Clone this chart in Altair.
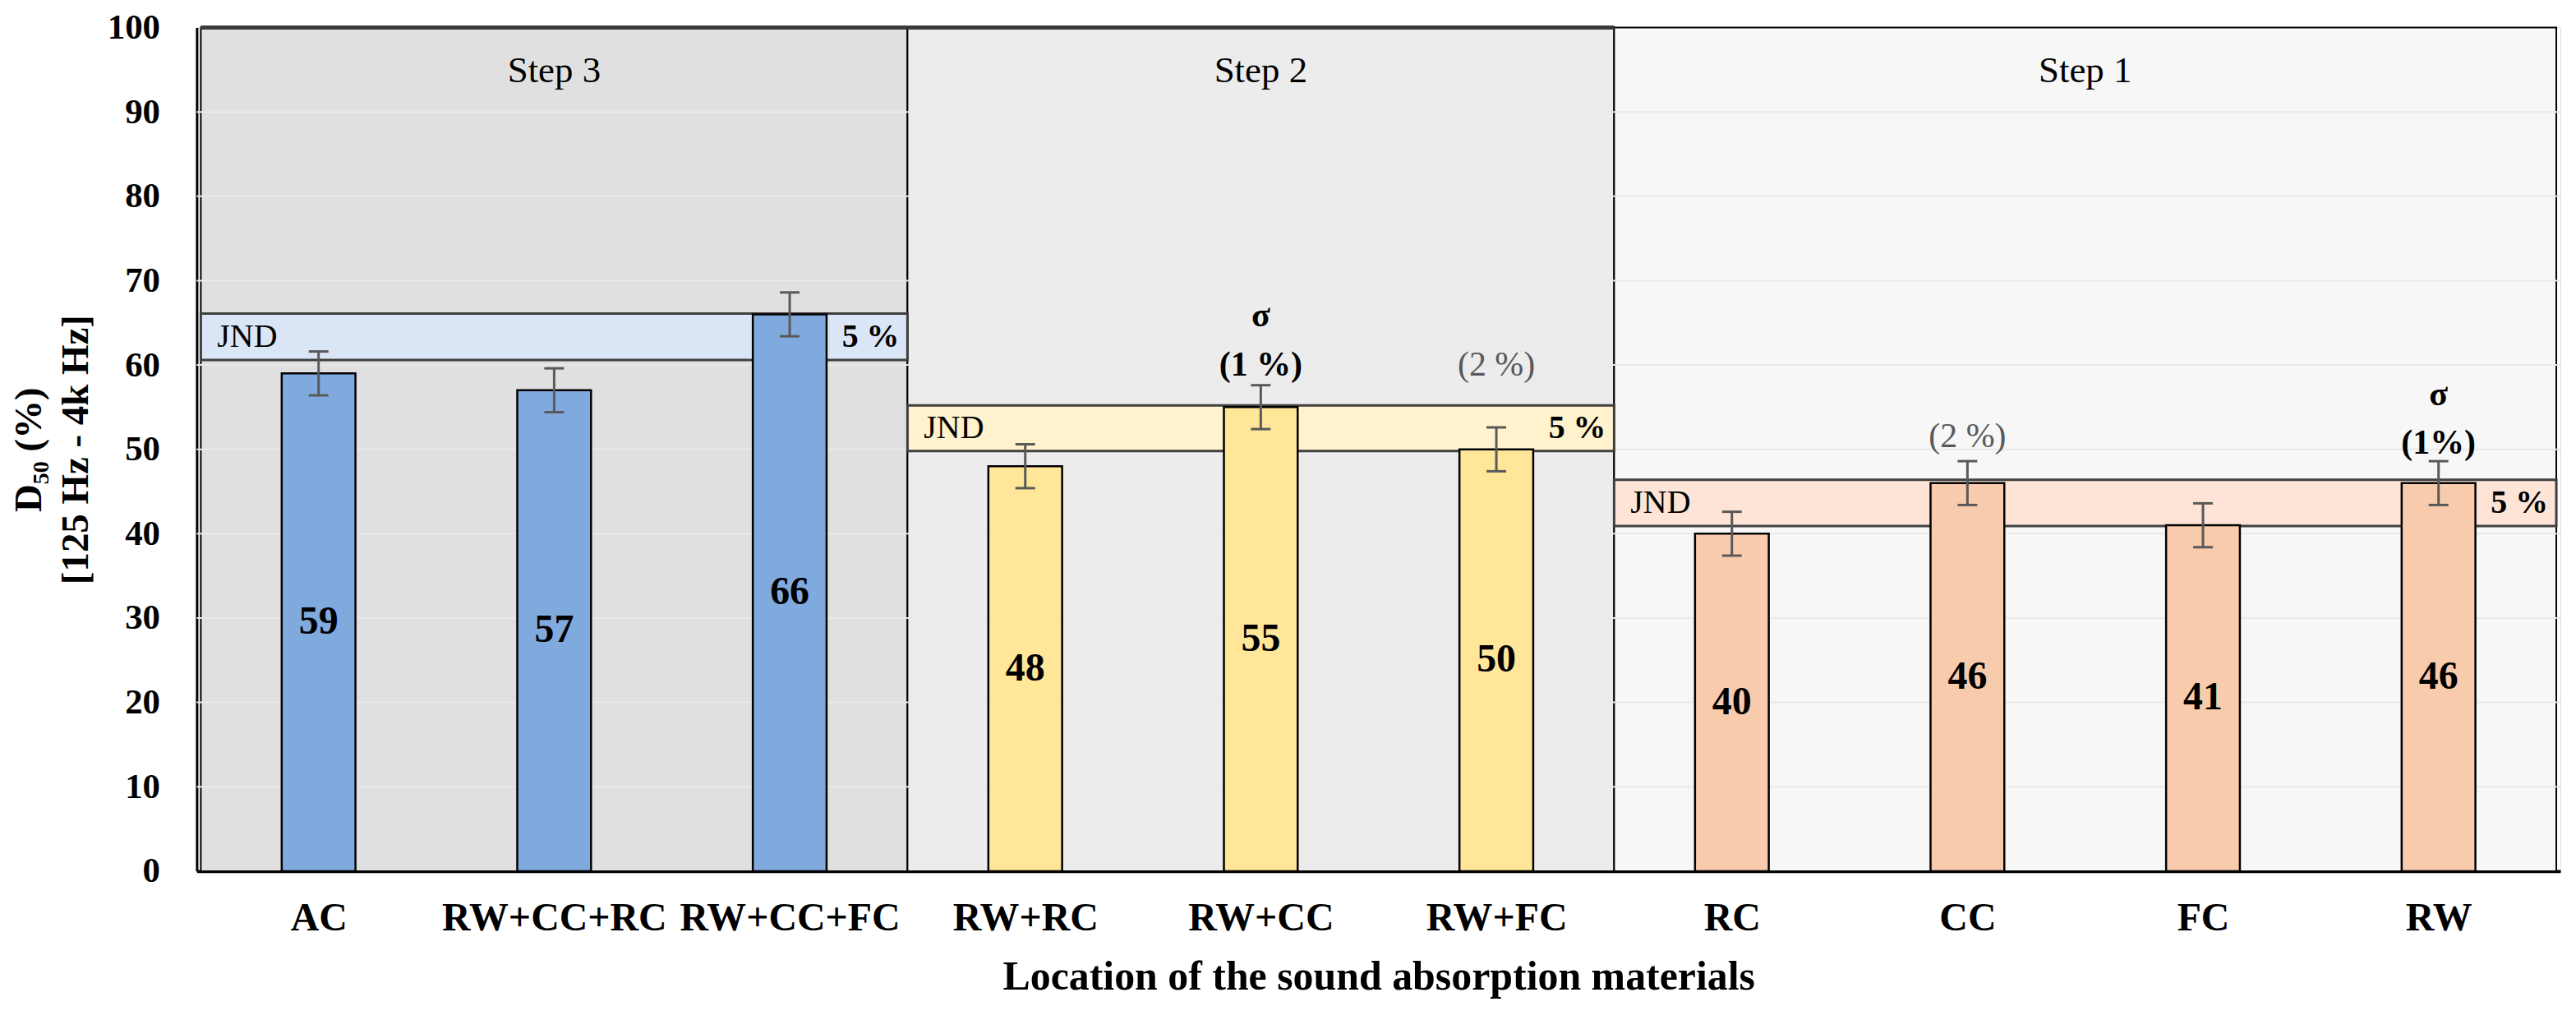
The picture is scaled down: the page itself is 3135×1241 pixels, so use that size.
import json
import altair as alt
import pandas as pd

# ---------------- data ----------------
cats = ["AC", "RW+CC+RC", "RW+CC+FC", "RW+RC", "RW+CC", "RW+FC", "RC", "CC", "FC", "RW"]
vals = [59, 57, 66, 48, 55, 50, 40, 46, 41, 46]
errs = [2.6, 2.6, 2.6, 2.6, 2.6, 2.6, 2.6, 2.6, 2.6, 2.6]
steps = ["Step 3", "Step 3", "Step 3", "Step 2", "Step 2", "Step 2",
         "Step 1", "Step 1", "Step 1", "Step 1"]

step_names = ["Step 3", "Step 2", "Step 1"]
step_first = [0, 3, 6]
step_last = [2, 5, 9]
jnd_lo = [60.6, 49.8, 40.9]
jnd_hi = [66.1, 55.2, 46.4]

ann_idx = [4, 4, 5, 7, 9, 9]
ann_y = [65.8, 60.0, 60.0, 51.5, 56.5, 50.7]
ann_text = ["σ", "(1 %)", "(2 %)", "(2 %)", "σ", "(1%)"]
ann_bold = [True, True, False, False, True, True]

grid_vals = [10, 20, 30, 40, 50, 60, 70, 80, 90]

# ---------------- styling ----------------
FONT = "Liberation Serif"
bar_colors = ["#80aade", "#ffe699", "#f8cbad"]
band_colors = ["#dae6f5", "#fff2cc", "#fde4d6"]
panel_colors = ["#e0e0e0", "#ececec", "#f7f7f7"]

bars_df = pd.DataFrame({"idx": list(range(len(cats))), "cat": cats, "value": vals,
                        "err": errs, "step": steps})
panels_df = pd.DataFrame({"step": step_names, "first": step_first, "last": step_last,
                          "lo": jnd_lo, "hi": jnd_hi})
ann_df = pd.DataFrame({"idx": ann_idx, "y": ann_y, "text": ann_text, "bold": ann_bold})
grid_df = pd.DataFrame({"g": grid_vals})

xscale = alt.Scale(domain=[-0.5, len(cats) - 0.5], nice=False, zero=False)
yscale = alt.Scale(domain=[0, 100], nice=False)

XT = "Location of the sound absorption materials"
YT = ["D₅₀ (%)", "[125 Hz - 4k Hz]"]

label_expr = json.dumps(cats) + "[datum.value]"
xaxis = alt.Axis(values=list(range(len(cats))), labelExpr=label_expr, ticks=False,
                 grid=False, labelFont=FONT, labelFontSize=48, labelFontWeight="bold",
                 labelColor="black", labelPadding=34, labelAngle=0, labelOverlap=False,
                 labelFlush=False, labelLimit=0, domainColor="black", domainWidth=4,
                 title=XT, titleFont=FONT,
                 titleFontSize=50, titleFontWeight="bold", titleColor="black",
                 titlePadding=22)
yaxis = alt.Axis(values=list(range(0, 101, 10)), ticks=False, grid=False,
                 labelFont=FONT, labelFontSize=43, labelFontWeight="bold",
                 labelColor="black", labelPadding=45, domainColor="black", domainWidth=3,
                 title=YT, titleFont=FONT, titleLineHeight=57,
                 titleFontSize=47, titleFontWeight="bold", titleColor="black",
                 titlePadding=14)


def X(field):
    return alt.X(field, type="quantitative", scale=xscale, axis=xaxis, title=XT)


def Y(field):
    return alt.Y(field, type="quantitative", scale=yscale, axis=yaxis, title=YT)


panels_base = alt.Chart(panels_df).transform_calculate(
    x0="datum.first - 0.5", x1="datum.last + 0.5",
    mid="(datum.first + datum.last) / 2", c="(datum.lo + datum.hi) / 2",
    ybot="0", ytop="100", ystep="94.9")

panel_bg = panels_base.mark_rect(stroke="black", strokeWidth=2).encode(
    x=X("x0"), x2="x1:Q", y=Y("ybot"), y2="ytop:Q",
    fill=alt.Fill("step:N", scale=alt.Scale(domain=step_names, range=panel_colors),
                  legend=None))

grid = alt.Chart(grid_df).mark_rule(color="#e9e9e9", strokeWidth=2).encode(y=Y("g"))

top_rule = panels_base.transform_filter("datum.step != 'Step 1'").mark_rule(
    color="#3a3a3a", strokeWidth=5).encode(x=X("x0"), x2="x1:Q", y=Y("ytop"))

bands = panels_base.mark_rect(stroke="#3f3f3f", strokeWidth=3).encode(
    x=X("x0"), x2="x1:Q", y=Y("lo"), y2="hi:Q",
    color=alt.Color("step:N", scale=alt.Scale(domain=step_names, range=band_colors),
                    legend=None))

jnd_text = panels_base.mark_text(font=FONT, fontSize=40, align="left", dx=20,
                                 baseline="middle", color="black").encode(
    x=X("x0"), y=Y("c"), text=alt.value("JND"))

pct_text = panels_base.mark_text(font=FONT, fontSize=40, fontWeight="bold",
                                 align="right", dx=-10, baseline="middle",
                                 color="black").encode(
    x=X("x1"), y=Y("c"), text=alt.value("5 %"))

step_text = panels_base.mark_text(font=FONT, fontSize=45, align="center",
                                  baseline="middle", color="black").encode(
    x=X("mid"), y=Y("ystep"), text="step:N")

bars_base = alt.Chart(bars_df).transform_calculate(
    lo="datum.value - datum.err", hi="datum.value + datum.err", half="datum.value / 2")

bars = bars_base.mark_bar(size=90, stroke="black", strokeWidth=2.5, opacity=1).encode(
    x=X("idx"), y=Y("value"),
    fill=alt.Fill("step:N", scale=alt.Scale(domain=step_names, range=bar_colors),
                  legend=None))

err_rule = bars_base.mark_rule(color="#595959", strokeWidth=3).encode(
    x=X("idx"), y=Y("lo"), y2="hi:Q")
cap_lo = bars_base.mark_tick(orient="horizontal", size=24, thickness=3,
                             color="#595959", opacity=1).encode(x=X("idx"), y=Y("lo"))
cap_hi = bars_base.mark_tick(orient="horizontal", size=24, thickness=3,
                             color="#595959", opacity=1).encode(x=X("idx"), y=Y("hi"))

val_text = bars_base.mark_text(font=FONT, fontSize=48, fontWeight="bold",
                               baseline="middle", align="center", color="black").encode(
    x=X("idx"), y=Y("half"), text="value:Q")

ann_bold_layer = alt.Chart(ann_df).transform_filter("datum.bold").mark_text(
    font=FONT, fontSize=42, fontWeight="bold", baseline="middle", align="center",
    color="black").encode(x=X("idx"), y=Y("y"), text="text:N")
ann_norm_layer = alt.Chart(ann_df).transform_filter("!datum.bold").mark_text(
    font=FONT, fontSize=42, baseline="middle", align="center",
    color="#595959").encode(x=X("idx"), y=Y("y"), text="text:N")

chart = alt.layer(
    panel_bg, grid, top_rule, bands, jnd_text, pct_text, step_text,
    bars, err_rule, cap_lo, cap_hi, val_text, ann_bold_layer, ann_norm_layer
).resolve_scale(
    fill="independent", color="independent"
).properties(
    width=2884, height=1029,
    autosize=alt.AutoSizeParams(type="none"),
    padding={"left": 232, "top": 24, "right": 11, "bottom": 172},
).configure_view(stroke=None).configure(background="white")

chart.save("out.html", embed_options={"renderer": "svg", "actions": False})
